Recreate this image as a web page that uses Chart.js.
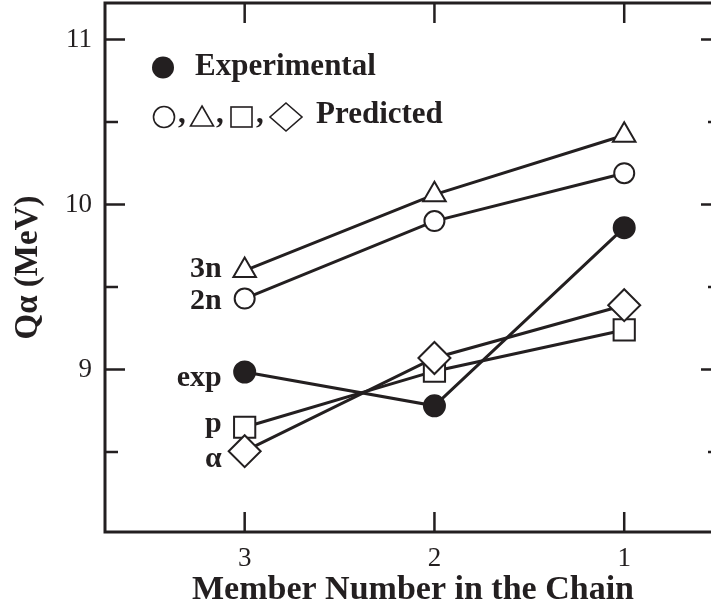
<!DOCTYPE html>
<html>
<head>
<meta charset="utf-8">
<script src="https://cdn.jsdelivr.net/npm/chart.js@4"></script>
<style>
html, body { margin: 0; padding: 0; overflow: hidden; background: #fff; }
#wrap { width: 730px; height: 612px; }
</style>
</head>
<body>
<div id="wrap"><canvas id="c" width="730" height="612"></canvas></div>
<script>
// ---- data ----
const members = [3, 2, 1];
const expValues = [8.985, 8.78, 9.86];
const n3Values = [9.60, 10.06, 10.42];
const n2Values = [9.43, 9.90, 10.19];
const pValues = [8.65, 8.99, 9.24];
const alphaValues = [8.505, 9.07, 9.39];
const yTickValues = [9, 10, 11];
const yMinorTickValues = [8.5, 9.5, 10.5];
const xTickValues = [3, 2, 1];
const seriesNames = ['α', 'p', 'exp', '2n', '3n'];
const legendTexts = ['Experimental', 'Predicted'];
const xTitle = 'Member Number in the Chain';
const yTitle = 'Qα (MeV)';

// ---- style ----
const INK = '#231f20';
const SERIF = "'Liberation Serif', 'Times New Roman', serif";
const labelOffsets = { 'α': 16, 'p': 5, 'exp': 14, '2n': 10, '3n': 6 }; // baseline offset from point (px)

function pts(vals) { return members.map((m, i) => ({ x: m, y: vals[i] })); }

const baseDs = { showLine: true, borderColor: INK, borderWidth: 3, pointBorderColor: INK, pointBorderWidth: 2, pointBackgroundColor: '#fff', pointHoverRadius: 0 };

const datasets = [
  Object.assign({}, baseDs, { label: seriesNames[0], data: pts(alphaValues), pointStyle: 'rectRot', pointRadius: 16 }),
  Object.assign({}, baseDs, { label: seriesNames[1], data: pts(pValues), pointStyle: 'rect', pointRadius: 15 }),
  Object.assign({}, baseDs, { label: seriesNames[2], data: pts(expValues), pointStyle: 'circle', pointRadius: 10.5, pointBackgroundColor: INK }),
  Object.assign({}, baseDs, { label: seriesNames[3], data: pts(n2Values), pointStyle: 'circle', pointRadius: 10 }),
  Object.assign({}, baseDs, { label: seriesNames[4], data: pts(n3Values), pointStyle: 'triangle', pointRadius: 13 })
];

const decor = {
  id: 'decor',
  beforeDatasetsDraw(chart) {
    const { ctx, chartArea: a, scales: { x, y } } = chart;
    ctx.save();
    ctx.strokeStyle = INK;
    ctx.lineWidth = 3;
    ctx.strokeRect(a.left, a.top, a.right - a.left, a.bottom - a.top);
    ctx.lineWidth = 2.5;
    ctx.beginPath();
    xTickValues.forEach(v => {
      const px = x.getPixelForValue(v);
      ctx.moveTo(px, a.bottom); ctx.lineTo(px, a.bottom - 20);
      ctx.moveTo(px, a.top); ctx.lineTo(px, a.top + 20);
    });
    yTickValues.forEach(v => {
      const py = y.getPixelForValue(v);
      ctx.moveTo(a.left, py); ctx.lineTo(a.left + 20, py);
      ctx.moveTo(a.right, py); ctx.lineTo(a.right - 20, py);
    });
    yMinorTickValues.forEach(v => {
      const py = y.getPixelForValue(v);
      ctx.moveTo(a.left, py); ctx.lineTo(a.left + 13, py);
      ctx.moveTo(a.right, py); ctx.lineTo(a.right - 13, py);
    });
    ctx.stroke();
    ctx.restore();
  },
  afterDraw(chart) {
    const { ctx, scales: { x, y } } = chart;
    ctx.save();
    ctx.fillStyle = INK;
    ctx.strokeStyle = INK;
    // series labels at first member
    ctx.font = 'bold 30px ' + SERIF;
    ctx.textAlign = 'right';
    ctx.textBaseline = 'alphabetic';
    chart.data.datasets.forEach(ds => {
      const p0 = ds.data[0];
      const px = x.getPixelForValue(p0.x);
      const py = y.getPixelForValue(p0.y);
      ctx.fillText(ds.label, px - 23, py + labelOffsets[ds.label]);
    });
    // legend
    ctx.textAlign = 'left';
    ctx.font = 'bold 31px ' + SERIF;
    ctx.beginPath(); ctx.arc(163, 67.5, 11, 0, Math.PI * 2); ctx.fill();
    ctx.fillText(legendTexts[0], 195, 75);
    ctx.lineWidth = 1.6;
    const cy = 117;
    ctx.beginPath(); ctx.arc(164, cy, 10.5, 0, Math.PI * 2); ctx.stroke();
    ctx.beginPath(); ctx.moveTo(202, cy - 11); ctx.lineTo(213.5, cy + 9); ctx.lineTo(190.5, cy + 9); ctx.closePath(); ctx.stroke();
    ctx.strokeRect(231, cy - 10, 21, 20);
    ctx.beginPath(); ctx.moveTo(286, cy - 14); ctx.lineTo(302, cy); ctx.lineTo(286, cy + 14); ctx.lineTo(270, cy); ctx.closePath(); ctx.stroke();
    ctx.fillText(',', 178, 123);
    ctx.fillText(',', 216, 123);
    ctx.fillText(',', 256, 123);
    ctx.fillText(legendTexts[1], 316, 123);
    ctx.restore();
  }
};

new Chart(document.getElementById('c'), {
  type: 'scatter',
  data: { datasets },
  options: {
    responsive: false,
    animation: false,
    devicePixelRatio: 1,
    layout: { autoPadding: false, padding: { top: 3, right: 9, left: 0, bottom: 0 } },
    plugins: { legend: { display: false }, tooltip: { enabled: false } },
    events: [],
    scales: {
      x: {
        type: 'linear', reverse: true, min: 0.49, max: 3.736,
        afterBuildTicks: s => { s.ticks = xTickValues.map(v => ({ value: v })); },
        afterFit: s => { s.height = 80; s.paddingLeft = 0; s.paddingRight = 0; },
        ticks: { autoSkip: false, maxRotation: 0, padding: 11, color: INK, font: { family: SERIF, size: 27 }, callback: v => String(v) },
        grid: { display: false, drawTicks: false },
        border: { display: false },
        title: { display: true, text: xTitle, color: INK, font: { family: SERIF, size: 34, weight: 'bold' }, padding: { top: 0, bottom: 1 } }
      },
      y: {
        type: 'linear', min: 8.015, max: 11.222,
        afterBuildTicks: s => { s.ticks = yTickValues.map(v => ({ value: v })); },
        afterFit: s => { s.width = 105; s.paddingTop = 0; s.paddingBottom = 0; },
        ticks: { autoSkip: false, padding: 13, color: INK, font: { family: SERIF, size: 27 }, callback: v => String(v) },
        grid: { display: false, drawTicks: false },
        border: { display: false },
        title: { display: true, text: yTitle, color: INK, font: { family: SERIF, size: 33, weight: 'bold' }, padding: { top: 9, bottom: 0 } }
      }
    }
  },
  plugins: [decor]
});
</script>
</body>
</html>
